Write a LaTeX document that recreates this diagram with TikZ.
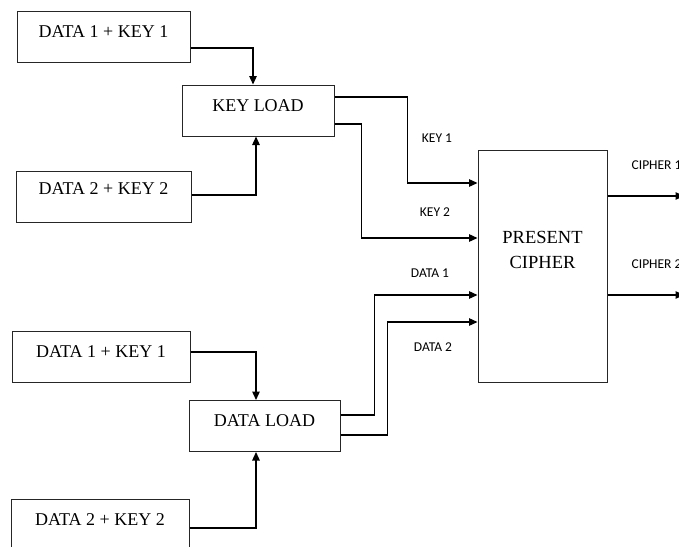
\documentclass[tikz,border=0pt]{standalone}
\usepackage{fontspec}
\setmainfont{Liberation Serif}
\newfontfamily\lblfont{Carlito}
\usetikzlibrary{arrows.meta,positioning}

\begin{document}
\begin{tikzpicture}[x=1pt, y=-1pt, >={Triangle[length=8.5pt,width=7.5pt]}, line width=1.3pt]

    \tikzstyle{blk} = [rectangle, draw=black!85, line width=1pt, inner sep=0pt, text height=26pt, text depth=25pt, font=\fontsize{18}{20}\selectfont]
    \tikzstyle{lbl} = [inner sep=0pt, font=\lblfont\fontsize{13.5}{15}\selectfont]

    \useasboundingbox (0,0) rectangle (679,546);
    \clip (0,0) rectangle (679,546);

    \node (topin1)  [blk, minimum width=173pt] at (103.5,36.5)  {DATA 1 + KEY 1};
    \node (topin2)  [blk, minimum width=175pt, text height=23pt, text depth=28pt] at (103.5,197) {DATA 2 + KEY 2};
    \node (keyload) [blk, minimum width=152pt] at (258,110.5)   {KEY LOAD};

    \node (botin1)  [blk, minimum width=178pt] at (101,356.5)   {DATA 1 + KEY 1};
    \node (botin2)  [blk, minimum width=178pt] at (100,524.5)   {DATA 2 + KEY 2};
    \node (dataload)[blk, minimum width=151pt] at (264.5,426)   {DATA LOAD};

    \node (present) [rectangle, draw=black!85, line width=1pt, minimum width=129pt, minimum height=232pt, align=center, font=\fontsize{18.5}{25}\selectfont] at (542.5,266) {PRESENT\\CIPHER\\[8pt]};

    \coordinate (out1) at (684,196);
    \coordinate (out2) at (684,295);

    % labels
    \node (lkey1)  [lbl] at (437,138) {KEY 1};
    \node (lkey2)  [lbl] at (435,212) {KEY 2};
    \node (ldata1) [lbl] at (430,273) {DATA 1};
    \node (ldata2) [lbl] at (433,347) {DATA 2};
    \node (lcph1)  [lbl, anchor=west] at (631,165) {CIPHER 1};
    \node (lcph2)  [lbl, anchor=west] at (631,264) {CIPHER 2};

    % inputs to load blocks
    \draw[->] ([yshift=-11.5pt]topin1.east) -| ([xshift=-5pt]keyload.north);
    \draw[->] ([yshift=2pt]topin2.east)     -| ([xshift=-2pt]keyload.south);
    \draw[->] ([yshift=4.5pt]botin1.east)   -| ([xshift=-8.5pt]dataload.north);
    \draw[->] ([yshift=-3.5pt]botin2.east)  -| ([xshift=-8.5pt]dataload.south);

    % load blocks to cipher
    \draw[->] ([yshift=13.5pt]keyload.east)  -- ++(73,0) |- ([yshift=83pt]present.west);
    \draw[->] ([yshift=-13.5pt]keyload.east) -- ++(27,0) |- ([yshift=28pt]present.west);
    \draw[->] ([yshift=11pt]dataload.east)   -- ++(34,0) |- ([yshift=-29pt]present.west);
    \draw[->] ([yshift=-9pt]dataload.east)   -- ++(47,0) |- ([yshift=-56pt]present.west);

    % outputs
    \draw[->] (present.east |- out1) -- (out1);
    \draw[->] (present.east |- out2) -- (out2);
\end{tikzpicture}
\end{document}
